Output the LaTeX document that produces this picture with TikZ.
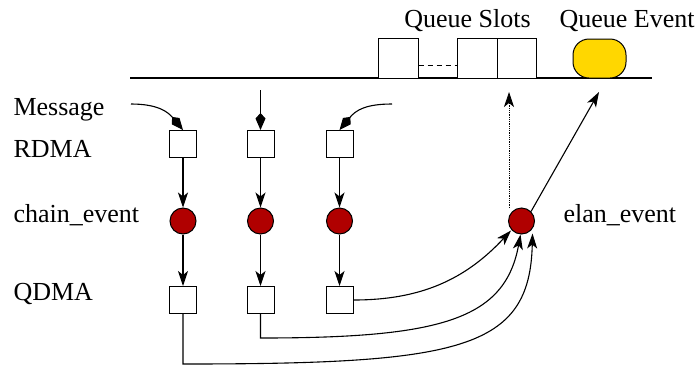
\documentclass[tikz,border=0pt]{standalone}
\usepackage{fontspec}
\setmainfont{Liberation Serif}
\usetikzlibrary{arrows.meta}
\definecolor{evred}{HTML}{B00000}
\definecolor{evgold}{HTML}{FFD700}
\begin{document}
\begin{tikzpicture}[x=1pt,y=-1pt,line width=1.1pt,
  every node/.style={font=\fontsize{26}{30}\selectfont},
  sbox/.style={draw,line width=1pt,fill=white,minimum size=27pt,inner sep=0pt},
  slot/.style={draw,line width=1pt,fill=white,minimum width=40pt,minimum height=40pt,inner sep=0pt},
  evdot/.style={circle,draw,line width=1pt,fill=evred,minimum size=26pt,inner sep=0pt},
  lbl/.style={anchor=base west,inner sep=0pt},
  arr/.style={-{Stealth[length=15pt,width=10pt,inset=4pt]}},
  karr/.style={-{Kite[length=17pt,width=10pt,inset=5.5pt]}}]
\useasboundingbox (0,0) rectangle (698,368);

% baseline of the queue
\draw (130,78) -- (652,78);

% queue slots and the queue event
\node[slot] (s1) at (398,58) {};
\node[slot,minimum width=40pt] (s2) at (477,58) {};
\node[slot,minimum width=39pt] (s3) at (516.5,58) {};
\draw[line width=1pt,dashed,dash pattern=on 5pt off 4pt] (s1.east |- 0,65) -- (s2.west |- 0,65);
\node[draw,line width=1pt,fill=evgold,rounded corners=16pt,minimum width=53pt,minimum height=39pt,inner sep=0pt] (qe) at (599.5,58.5) {};
\node[anchor=base] at (467.5,27) {Queue Slots};
\node[anchor=base] at (627,27) {Queue Event};

% row labels
\node[lbl] at (13,115) {Message};
\node[lbl] at (13,157) {RDMA};
\node[lbl] at (13,222) {chain\_event};
\node[lbl] at (13,300) {QDMA};
\node[lbl] at (563,222) {elan\_event};

% columns
\foreach \i/\x in {1/183,2/260.5,3/339.5}{
  \node[sbox] (r\i) at (\x,144) {};
  \node[evdot] (c\i) at (\x,221) {};
  \node[sbox] (q\i) at (\x,300) {};
  \draw[arr] (r\i) -- (c\i);
  \draw[arr] (c\i) -- (q\i);
}
\node[evdot] (e) at (521.5,221) {};

% incoming messages
\coordinate (m1) at (131,104);
\coordinate (m2) at (260.5,90);
\coordinate (m3) at (392,104);
\draw[karr] (m1) .. controls (158,104) and (168,112) .. (r1.north);
\draw[karr] (m2) -- (r2.north);
\draw[karr] (m3) .. controls (366,104) and (356,110) .. (r3.north);

% QDMA completions into the elan event
\coordinate (k2) at (260.5,338);
\coordinate (k1) at (183,364);
\draw[arr] (q3.east) .. controls (420,300) and (465,280) .. ([xshift=-1pt]e.south west);
\draw[arr] (q2.south) -- (k2) .. controls (440,338) and (505,320) .. ([xshift=-1pt]e.south);
\draw[arr] (q1.south) -- (k1) .. controls (460,364) and (530,350) .. ([xshift=11pt,yshift=1pt]e.south);

% elan event into the queue
\coordinate (d0) at (509,208);
\coordinate (d1) at (509,92);
\draw[arr,line width=0.8pt,densely dotted] (d0) -- (d1);
\coordinate (a1) at (599,92);
\draw[arr] (e.north east) -- (a1);
\end{tikzpicture}
\end{document}
